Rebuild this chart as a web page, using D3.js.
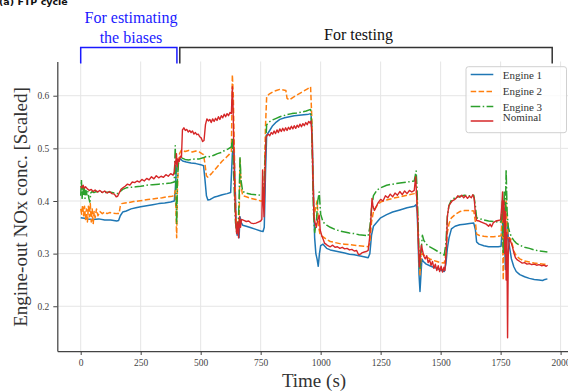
<!DOCTYPE html>
<html>
<head>
<meta charset="utf-8">
<script src="https://cdn.jsdelivr.net/npm/d3@7"></script>
<style>
  html, body { margin: 0; padding: 0; background: #fff; overflow: hidden; }
  svg { display: block; }
</style>
</head>
<body>
<script>
// Tick values
const xTicks = [0, 250, 500, 750, 1000, 1250, 1500, 1750, 2000];
const yTicks = [0.2, 0.3, 0.4, 0.5, 0.6];

// Series: [time (s), scaled NOx]
const engine1 = [[0,0.368],[15,0.367],[30,0.366],[50,0.365],[75,0.366],[100,0.364],[125,0.364],[150,0.362],[158,0.363],[165,0.372],[175,0.379],[190,0.381],[210,0.385],[230,0.387],[250,0.389],[275,0.391],[300,0.393],[325,0.395],[350,0.396],[375,0.398],[390,0.400],[394,0.42],[398,0.455],[403,0.47],[408,0.475],[415,0.48],[425,0.476],[440,0.474],[460,0.472],[480,0.471],[500,0.469],[512,0.467],[518,0.44],[524,0.41],[530,0.402],[540,0.403],[555,0.407],[570,0.409],[590,0.412],[610,0.414],[625,0.416],[632,0.49],[638,0.5],[643,0.44],[648,0.36],[652,0.335],[656,0.34],[660,0.33],[664,0.37],[668,0.36],[675,0.354],[690,0.352],[710,0.349],[730,0.346],[750,0.343],[760,0.342],[765,0.35],[770,0.45],[775,0.525],[785,0.532],[800,0.543],[815,0.55],[830,0.555],[850,0.558],[870,0.56],[890,0.562],[910,0.563],[930,0.564],[950,0.565],[960,0.566],[965,0.52],[970,0.42],[975,0.33],[980,0.3],[985,0.29],[990,0.276],[995,0.3],[1000,0.315],[1010,0.318],[1025,0.31],[1040,0.307],[1060,0.305],[1080,0.303],[1100,0.301],[1120,0.299],[1140,0.298],[1160,0.296],[1180,0.294],[1198,0.292],[1205,0.3],[1212,0.335],[1220,0.352],[1235,0.36],[1250,0.368],[1275,0.374],[1300,0.379],[1330,0.383],[1360,0.387],[1390,0.39],[1398,0.393],[1402,0.38],[1406,0.33],[1410,0.26],[1414,0.228],[1418,0.26],[1422,0.29],[1428,0.285],[1440,0.28],[1455,0.277],[1470,0.274],[1485,0.272],[1500,0.269],[1515,0.266],[1522,0.28],[1528,0.31],[1535,0.33],[1545,0.347],[1560,0.352],[1580,0.355],[1600,0.356],[1620,0.357],[1638,0.358],[1645,0.345],[1650,0.322],[1660,0.318],[1680,0.315],[1700,0.313],[1720,0.313],[1740,0.313],[1752,0.314],[1758,0.35],[1762,0.4],[1766,0.33],[1770,0.27],[1774,0.3],[1778,0.36],[1782,0.33],[1788,0.31],[1795,0.29],[1805,0.275],[1815,0.266],[1830,0.26],[1850,0.256],[1870,0.253],[1890,0.251],[1910,0.25],[1925,0.249],[1935,0.251],[1945,0.252]];

const engine2 = [[0,0.385],[4,0.375],[8,0.392],[12,0.372],[16,0.39],[20,0.365],[24,0.385],[28,0.36],[32,0.39],[36,0.37],[40,0.395],[44,0.36],[48,0.385],[52,0.356],[56,0.38],[60,0.368],[66,0.385],[72,0.372],[80,0.38],[90,0.376],[100,0.379],[110,0.376],[120,0.378],[135,0.377],[150,0.376],[160,0.376],[165,0.39],[170,0.395],[185,0.396],[200,0.397],[220,0.399],[240,0.4],[260,0.401],[280,0.403],[300,0.404],[320,0.405],[340,0.406],[360,0.408],[380,0.409],[390,0.41],[394,0.42],[397,0.38],[400,0.33],[403,0.42],[407,0.47],[412,0.49],[420,0.497],[435,0.494],[450,0.496],[465,0.493],[480,0.495],[495,0.493],[505,0.49],[512,0.488],[518,0.47],[524,0.448],[530,0.445],[545,0.452],[560,0.46],[575,0.468],[590,0.476],[605,0.482],[620,0.489],[628,0.494],[632,0.64],[636,0.6],[640,0.5],[645,0.4],[650,0.345],[655,0.34],[660,0.36],[664,0.48],[668,0.43],[675,0.41],[690,0.408],[710,0.405],[730,0.403],[750,0.4],[760,0.4],[765,0.43],[770,0.54],[775,0.598],[785,0.603],[800,0.607],[815,0.61],[830,0.612],[845,0.611],[855,0.61],[860,0.595],[870,0.592],[885,0.597],[900,0.601],[915,0.605],[930,0.609],[945,0.613],[958,0.617],[963,0.56],[968,0.45],[973,0.37],[978,0.385],[985,0.4],[992,0.35],[998,0.335],[1010,0.332],[1025,0.327],[1040,0.323],[1060,0.321],[1080,0.319],[1100,0.318],[1120,0.317],[1140,0.316],[1160,0.315],[1180,0.314],[1198,0.313],[1205,0.32],[1212,0.36],[1220,0.38],[1235,0.391],[1250,0.398],[1275,0.402],[1300,0.405],[1330,0.408],[1360,0.411],[1390,0.414],[1398,0.418],[1402,0.4],[1406,0.35],[1410,0.29],[1414,0.26],[1418,0.29],[1422,0.3],[1428,0.298],[1440,0.294],[1455,0.29],[1470,0.287],[1485,0.285],[1500,0.283],[1515,0.282],[1522,0.3],[1528,0.34],[1535,0.357],[1545,0.368],[1560,0.374],[1580,0.38],[1600,0.382],[1620,0.382],[1638,0.381],[1645,0.36],[1650,0.337],[1660,0.335],[1680,0.333],[1700,0.332],[1720,0.332],[1740,0.333],[1752,0.334],[1757,0.37],[1761,0.25],[1765,0.38],[1769,0.33],[1773,0.4],[1777,0.35],[1782,0.33],[1788,0.33],[1795,0.325],[1805,0.305],[1815,0.296],[1830,0.29],[1850,0.286],[1870,0.284],[1890,0.282],[1910,0.281],[1930,0.28],[1945,0.28]];

const engine3 = [[0,0.41],[3,0.44],[6,0.405],[9,0.43],[12,0.41],[15,0.425],[18,0.405],[22,0.42],[26,0.412],[30,0.418],[34,0.405],[38,0.398],[42,0.415],[48,0.418],[55,0.416],[65,0.418],[80,0.417],[100,0.416],[120,0.417],[140,0.415],[155,0.414],[165,0.418],[175,0.422],[190,0.425],[210,0.426],[230,0.427],[250,0.428],[275,0.43],[300,0.431],[325,0.432],[350,0.433],[375,0.434],[390,0.436],[394,0.505],[397,0.43],[400,0.356],[403,0.44],[407,0.47],[412,0.48],[420,0.482],[435,0.479],[450,0.478],[465,0.479],[480,0.48],[495,0.48],[510,0.482],[525,0.485],[540,0.484],[555,0.487],[570,0.49],[585,0.492],[600,0.496],[615,0.499],[628,0.503],[632,0.52],[636,0.47],[640,0.42],[645,0.36],[650,0.34],[656,0.345],[660,0.4],[664,0.482],[668,0.44],[675,0.418],[690,0.415],[710,0.413],[730,0.412],[750,0.411],[760,0.41],[765,0.44],[770,0.5],[775,0.545],[785,0.55],[800,0.554],[815,0.557],[830,0.56],[845,0.562],[860,0.564],[880,0.566],[900,0.567],[920,0.569],[940,0.571],[958,0.574],[962,0.55],[966,0.47],[970,0.38],[975,0.34],[982,0.36],[988,0.4],[994,0.417],[1000,0.375],[1010,0.36],[1025,0.354],[1040,0.35],[1060,0.346],[1080,0.343],[1100,0.341],[1120,0.339],[1140,0.338],[1160,0.336],[1180,0.335],[1198,0.334],[1205,0.35],[1212,0.385],[1220,0.41],[1235,0.421],[1250,0.425],[1275,0.43],[1300,0.432],[1330,0.434],[1360,0.436],[1390,0.438],[1398,0.457],[1402,0.42],[1406,0.36],[1410,0.3],[1414,0.27],[1418,0.3],[1424,0.335],[1430,0.325],[1440,0.318],[1455,0.313],[1470,0.309],[1485,0.305],[1500,0.301],[1515,0.297],[1522,0.32],[1528,0.37],[1535,0.392],[1545,0.402],[1560,0.406],[1580,0.409],[1600,0.411],[1620,0.41],[1638,0.411],[1645,0.39],[1650,0.368],[1665,0.366],[1680,0.364],[1700,0.362],[1720,0.361],[1740,0.36],[1752,0.36],[1757,0.4],[1761,0.3],[1765,0.42],[1769,0.35],[1773,0.46],[1777,0.38],[1782,0.35],[1788,0.34],[1795,0.332],[1805,0.325],[1815,0.32],[1830,0.316],[1850,0.312],[1870,0.31],[1890,0.307],[1910,0.305],[1930,0.304],[1945,0.303]];

const nominal = [[0,0.428],[5,0.425],[10,0.43],[15,0.424],[20,0.427],[28,0.423],[36,0.42],[44,0.422],[52,0.418],[60,0.421],[70,0.417],[80,0.42],[90,0.416],[100,0.419],[110,0.415],[120,0.418],[130,0.414],[140,0.413],[148,0.408],[154,0.409],[160,0.415],[168,0.422],[176,0.425],[185,0.428],[195,0.432],[205,0.43],[215,0.436],[225,0.435],[235,0.438],[245,0.436],[255,0.441],[265,0.438],[275,0.443],[285,0.44],[295,0.446],[305,0.442],[315,0.448],[325,0.444],[335,0.447],[345,0.445],[355,0.45],[365,0.447],[375,0.452],[385,0.449],[390,0.455],[393,0.475],[396,0.47],[399,0.49],[402,0.465],[405,0.48],[410,0.475],[415,0.485],[420,0.483],[424,0.535],[430,0.539],[436,0.534],[442,0.536],[448,0.531],[454,0.534],[460,0.53],[466,0.533],[472,0.527],[478,0.53],[484,0.526],[490,0.527],[496,0.522],[502,0.52],[508,0.513],[514,0.515],[520,0.545],[526,0.556],[532,0.552],[538,0.555],[544,0.549],[550,0.556],[556,0.551],[562,0.557],[568,0.553],[574,0.56],[580,0.555],[586,0.562],[592,0.558],[598,0.565],[604,0.56],[610,0.566],[616,0.562],[622,0.568],[628,0.566],[632,0.617],[635,0.58],[638,0.5],[642,0.42],[646,0.36],[650,0.338],[654,0.36],[658,0.33],[662,0.37],[666,0.35],[670,0.365],[680,0.363],[690,0.361],[700,0.362],[710,0.358],[720,0.357],[730,0.358],[740,0.36],[750,0.362],[755,0.365],[758,0.459],[761,0.4],[764,0.37],[768,0.45],[772,0.52],[776,0.524],[782,0.527],[788,0.524],[794,0.53],[800,0.527],[806,0.533],[812,0.528],[818,0.535],[824,0.53],[830,0.537],[836,0.532],[842,0.538],[848,0.533],[854,0.539],[860,0.534],[866,0.54],[872,0.536],[878,0.542],[884,0.537],[890,0.543],[896,0.538],[902,0.544],[908,0.54],[914,0.546],[920,0.541],[926,0.547],[932,0.543],[938,0.549],[944,0.545],[950,0.551],[956,0.548],[960,0.552],[964,0.52],[968,0.44],[972,0.37],[976,0.36],[982,0.35],[988,0.365],[994,0.373],[998,0.345],[1004,0.335],[1010,0.328],[1016,0.32],[1022,0.318],[1030,0.315],[1040,0.313],[1050,0.316],[1060,0.312],[1070,0.313],[1080,0.31],[1090,0.312],[1100,0.309],[1110,0.31],[1120,0.307],[1130,0.308],[1140,0.305],[1150,0.306],[1158,0.298],[1166,0.299],[1174,0.302],[1182,0.303],[1190,0.304],[1198,0.306],[1204,0.33],[1210,0.37],[1214,0.405],[1218,0.39],[1224,0.382],[1232,0.39],[1240,0.397],[1250,0.403],[1260,0.4],[1270,0.41],[1280,0.406],[1290,0.413],[1300,0.408],[1310,0.415],[1320,0.411],[1330,0.418],[1340,0.412],[1350,0.419],[1360,0.414],[1370,0.42],[1380,0.417],[1390,0.42],[1396,0.446],[1400,0.41],[1404,0.37],[1408,0.31],[1412,0.275],[1416,0.3],[1420,0.316],[1425,0.305],[1430,0.295],[1436,0.29],[1442,0.296],[1448,0.283],[1454,0.288],[1460,0.278],[1466,0.285],[1472,0.272],[1478,0.28],[1484,0.268],[1490,0.277],[1496,0.266],[1502,0.276],[1508,0.265],[1514,0.274],[1518,0.268],[1524,0.31],[1528,0.37],[1534,0.39],[1540,0.395],[1548,0.4],[1556,0.402],[1564,0.405],[1572,0.41],[1580,0.407],[1588,0.411],[1596,0.406],[1604,0.41],[1612,0.405],[1620,0.409],[1628,0.406],[1634,0.412],[1640,0.405],[1645,0.375],[1650,0.363],[1660,0.362],[1670,0.36],[1680,0.358],[1690,0.356],[1700,0.352],[1706,0.356],[1712,0.351],[1720,0.359],[1730,0.362],[1740,0.363],[1750,0.364],[1755,0.39],[1758,0.417],[1761,0.36],[1764,0.4],[1767,0.3],[1770,0.38],[1773,0.25],[1776,0.34],[1779,0.14],[1782,0.3],[1786,0.33],[1790,0.325],[1795,0.319],[1800,0.312],[1806,0.3],[1812,0.292],[1820,0.288],[1830,0.285],[1840,0.282],[1850,0.283],[1860,0.28],[1870,0.281],[1880,0.279],[1890,0.28],[1900,0.278],[1910,0.279],[1920,0.277],[1930,0.278],[1940,0.276],[1946,0.278]];

const seriesNames = ["Engine 1", "Engine 2", "Engine 3", "Nominal"];
const seriesData = [engine1, engine2, engine3, nominal];
const seriesColors = ["#1f77b4", "#ff7f0e", "#2ca02c", "#d62728"];
const seriesDash = [null, "5.5,2.4", "9.6,2.4,1.5,2.4", null];

// Bracket spans (seconds)
const biasSpan = [0, 401];
const testSpan = [413, 1965];

const serif = "'Liberation Serif', 'Times New Roman', serif";
const width = 568;
const height = 392;

const x = d3.scaleLinear().domain([-97.5, 2047.5]).range([57.3, 572]);
const y = d3.scaleLinear().domain([0.115, 0.665]).range([351, 61.5]);

const svg = d3.select("body")
  .append("svg")
  .attr("width", width)
  .attr("height", height)
  .attr("font-family", serif);

svg.append("defs").append("clipPath")
  .attr("id", "plot-clip")
  .append("rect")
  .attr("x", 57.3).attr("y", 61.5)
  .attr("width", 572 - 57.3).attr("height", 351 - 61.5);

// Grid
const grid = svg.append("g").attr("stroke", "#e5e5e5").attr("stroke-width", 1);
grid.selectAll(".gx")
  .data(xTicks)
  .join("line")
  .attr("x1", d => x(d)).attr("x2", d => x(d))
  .attr("y1", 61.5).attr("y2", 351);
grid.selectAll(".gy")
  .data(yTicks)
  .join("line")
  .attr("x1", 57.3).attr("x2", 572)
  .attr("y1", d => y(d)).attr("y2", d => y(d));

// Lines
const line = d3.line().x(d => x(d[0])).y(d => y(d[1]));
svg.append("g")
  .attr("clip-path", "url(#plot-clip)")
  .selectAll("path")
  .data(seriesData)
  .join("path")
  .attr("fill", "none")
  .attr("stroke", (d, i) => seriesColors[i])
  .attr("stroke-width", (d, i) => i === 3 ? 1.4 : 1.5)
  .attr("stroke-linejoin", "round")
  .attr("stroke-dasharray", (d, i) => seriesDash[i])
  .attr("d", line);

// Axes
const xAxis = svg.append("g")
  .attr("transform", "translate(0,351)")
  .call(d3.axisBottom(x).tickValues(xTicks).tickFormat(d3.format("d")).tickSize(4).tickSizeOuter(0).tickPadding(4));
const yAxis = svg.append("g")
  .attr("transform", "translate(57.3,0)")
  .call(d3.axisLeft(y).tickValues(yTicks).tickFormat(d3.format(".1f")).tickSize(4).tickSizeOuter(0).tickPadding(4));

[xAxis, yAxis].forEach(g => {
  g.attr("font-family", serif).attr("font-size", 9.5);
  g.select(".domain").attr("stroke", "#444").attr("stroke-width", 1.25);
  g.selectAll(".tick line").attr("stroke", "#444").attr("stroke-width", 1);
  g.selectAll(".tick text").attr("fill", "#444");
});

// Axis labels
svg.append("text")
  .attr("x", 314).attr("y", 387)
  .attr("text-anchor", "middle")
  .attr("fill", "#333")
  .attr("font-size", 19)
  .text("Time (s)");

svg.append("text")
  .attr("transform", "translate(27,207) rotate(-90)")
  .attr("text-anchor", "middle")
  .attr("fill", "#333")
  .attr("font-size", 19)
  .text("Engine-out NOx conc. [Scaled]");

// Brackets and annotations
svg.append("path")
  .attr("fill", "none")
  .attr("stroke", "#1a1aff")
  .attr("stroke-width", 1.5)
  .attr("d", `M${x(biasSpan[0])},63.5V47.5H${x(biasSpan[1])}V63.5`);

svg.append("path")
  .attr("fill", "none")
  .attr("stroke", "#333")
  .attr("stroke-width", 1.5)
  .attr("d", `M${x(testSpan[0])},63.5V47.5H${x(testSpan[1])}V63.5`);

const blueText = svg.append("text")
  .attr("text-anchor", "middle")
  .attr("fill", "#1a1aff")
  .attr("font-size", 16);
blueText.append("tspan").attr("x", 131).attr("y", 23).text("For estimating");
blueText.append("tspan").attr("x", 131).attr("y", 43).text("the biases");

svg.append("text")
  .attr("x", 358.5).attr("y", 39.5)
  .attr("text-anchor", "middle")
  .attr("fill", "#111")
  .attr("font-size", 16)
  .text("For testing");

// Panel title, cut by the top edge as in the source figure
svg.append("text")
  .attr("x", -1).attr("y", 4.5)
  .attr("font-family", "'DejaVu Sans', sans-serif")
  .attr("font-weight", "bold")
  .attr("font-size", 9.5)
  .attr("fill", "#111")
  .text("(a) FTP cycle");

// Legend
const legend = svg.append("g");
legend.append("rect")
  .attr("x", 466).attr("y", 66.7)
  .attr("width", 100.5).attr("height", 66)
  .attr("rx", 2.5)
  .attr("fill", "#fff").attr("fill-opacity", 0.8)
  .attr("stroke", "#d0d0d0").attr("stroke-width", 1);

const legendLineY = [74.5, 91.5, 106.5, 121];
const legendTextY = [78.5, 95.2, 110.5, 121];
seriesNames.forEach((name, i) => {
  legend.append("line")
    .attr("x1", 470.7).attr("x2", 493.3)
    .attr("y1", legendLineY[i]).attr("y2", legendLineY[i])
    .attr("stroke", seriesColors[i])
    .attr("stroke-width", 1.5)
    .attr("stroke-dasharray", seriesDash[i]);
  legend.append("text")
    .attr("x", 502.7).attr("y", legendTextY[i])
    .attr("fill", "#333")
    .attr("font-size", 11)
    .text(name);
});
</script>
</body>
</html>
